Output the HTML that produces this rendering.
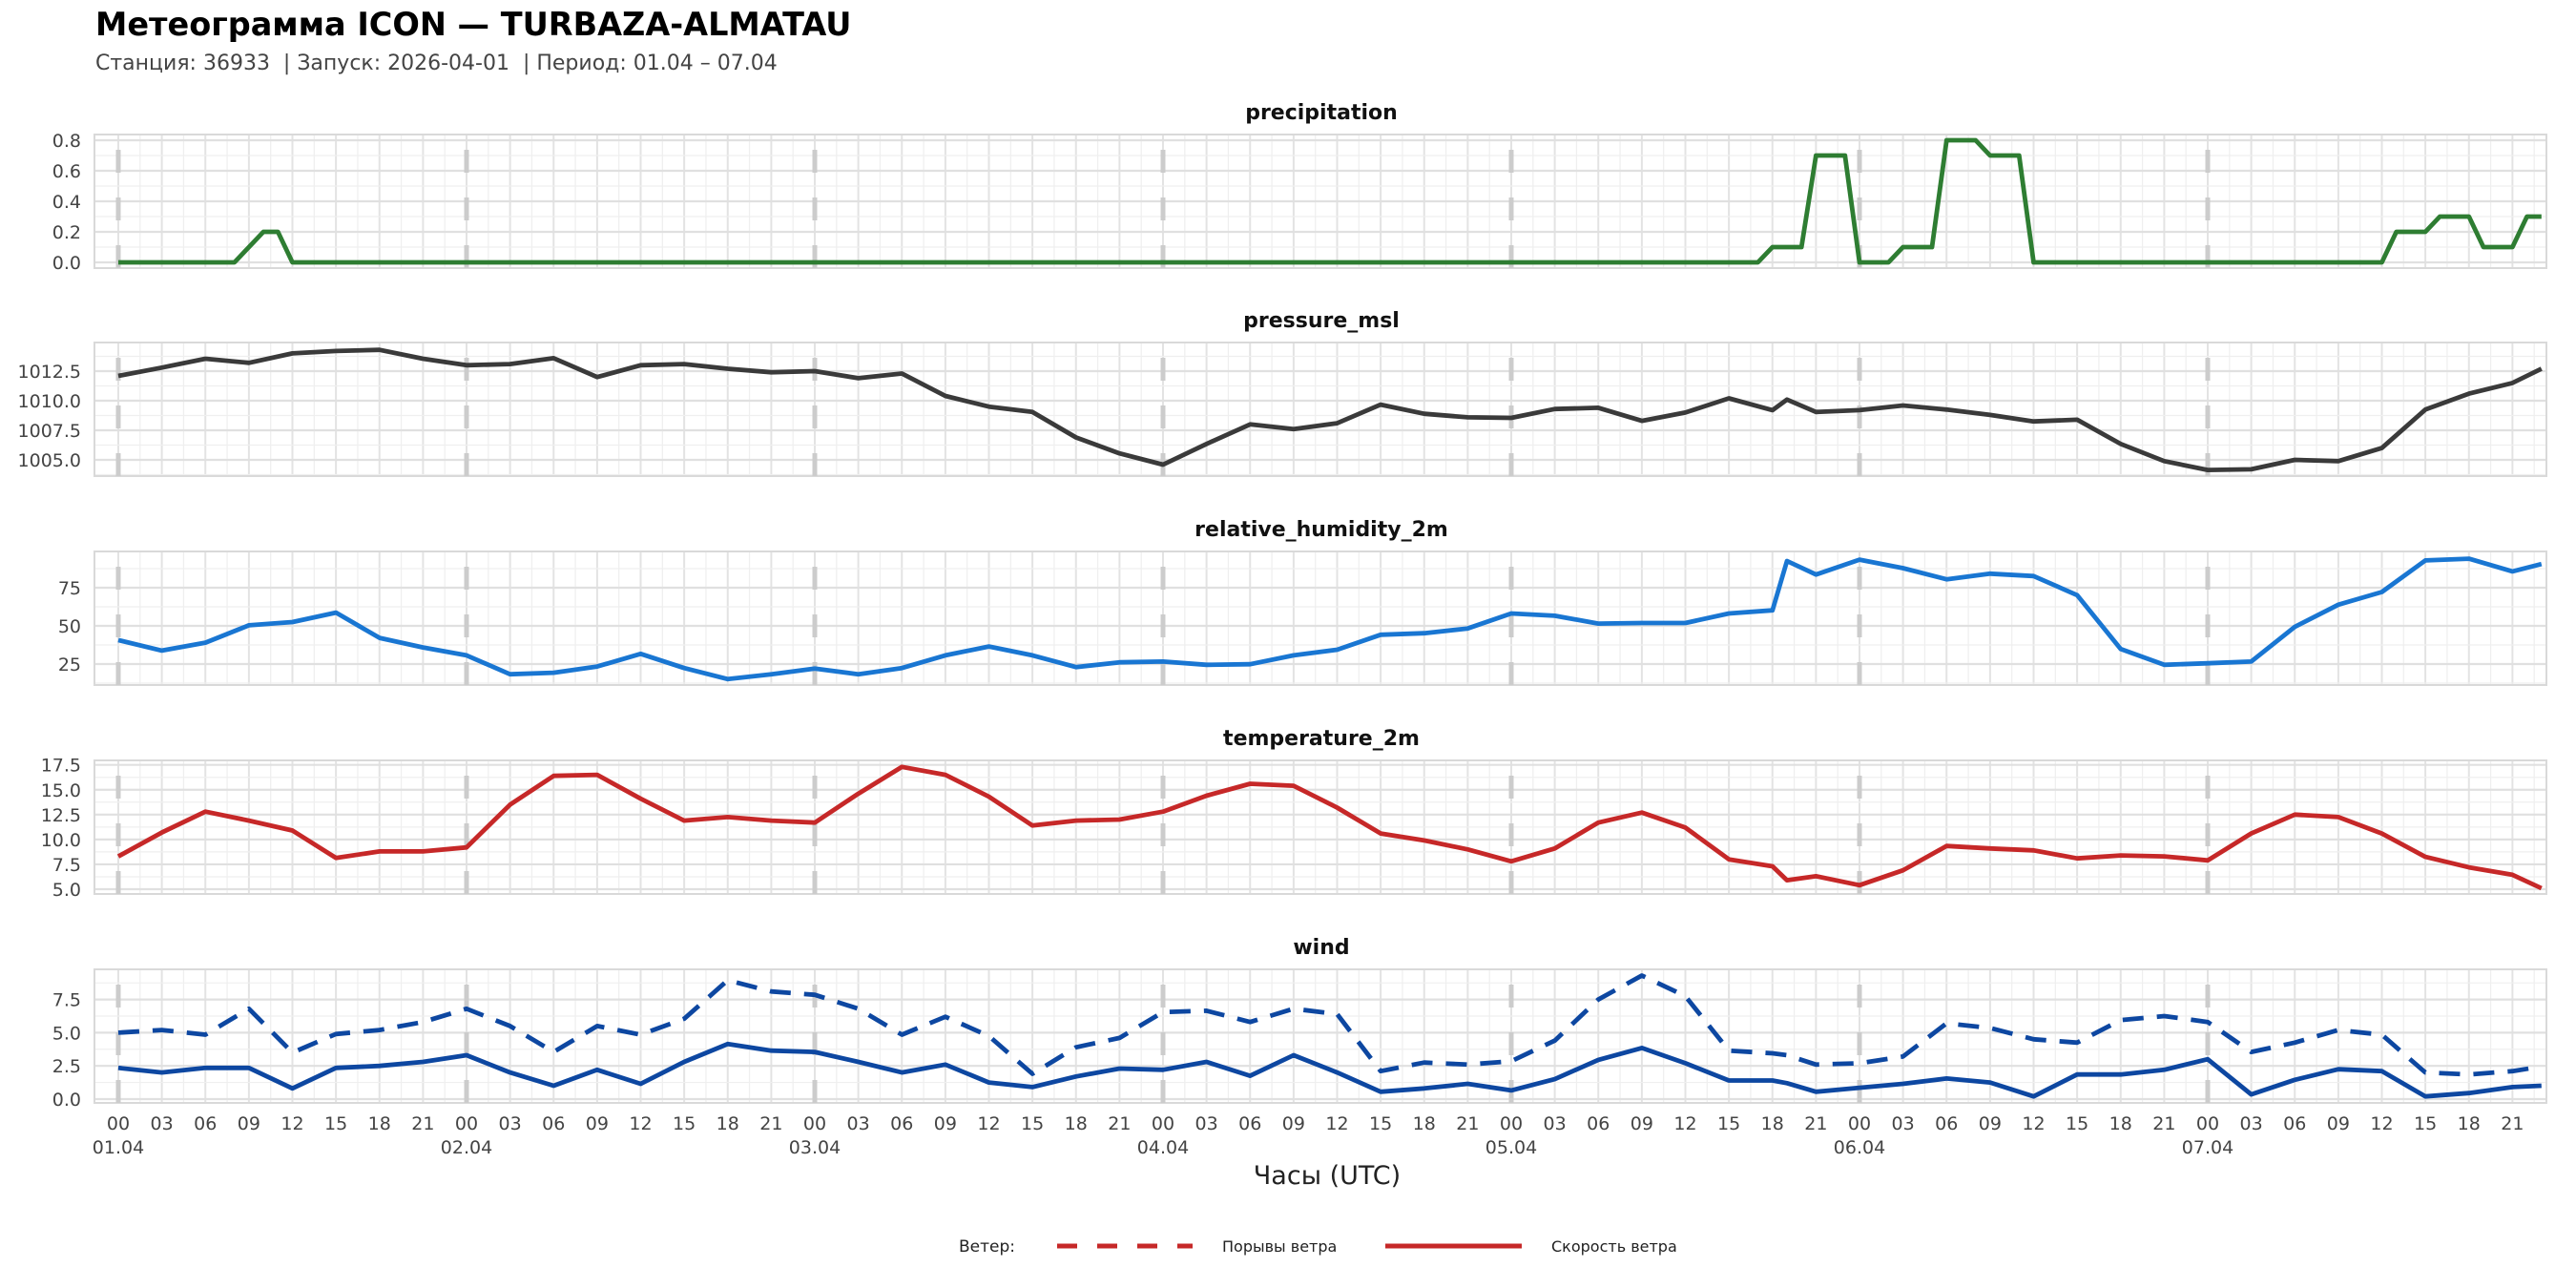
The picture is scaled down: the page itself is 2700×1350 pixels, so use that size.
<!DOCTYPE html>
<html><head><meta charset="utf-8"><style>
html,body{margin:0;padding:0;background:#fff;}
svg{display:block;font-family:"DejaVu Sans","Liberation Sans",sans-serif;}
</style></head>
<body>
<svg id="chart" width="2700" height="1350" viewBox="0 0 2700 1350" xmlns="http://www.w3.org/2000/svg">
<rect x="0" y="0" width="2700" height="1350" fill="#fff"/>
<text x="100" y="37" font-size="33.5" font-weight="bold" fill="#000">Метеограмма ICON — TURBAZA-ALMATAU</text>
<text x="100" y="73" font-size="22" fill="#444">Станция: 36933&#160;&#160;| Запуск: 2026-04-01&#160;&#160;| Период: 01.04 – 07.04</text>
<g id="panels"></g>
<text x="1391" y="1241" font-size="27" text-anchor="middle" fill="#222">Часы (UTC)</text>
<g>
<text x="1005" y="1312" font-size="17" fill="#222">Ветер:</text>
<line x1="1108" y1="1306" x2="1250" y2="1306" stroke="#c62828" stroke-width="5" stroke-dasharray="21 21"/>
<text x="1281" y="1312" font-size="16" fill="#222">Порывы ветра</text>
<line x1="1452" y1="1306" x2="1595" y2="1306" stroke="#c62828" stroke-width="5"/>
<text x="1626" y="1312" font-size="16" fill="#222">Скорость ветра</text>
</g>
</svg>
<script>
const hours = [0,3,6,9,12,15,18,21,24,27,30,33,36,39,42,45,48,51,54,57,60,63,66,69,72,75,78,81,84,87,90,93,96,99,102,105,108,111,114,115,117,120,123,126,129,132,135,138,141,144,147,150,153,156,159,162,165,167];
const pressure = [1012.1,1012.8,1013.55,1013.2,1014.0,1014.2,1014.3,1013.55,1013.0,1013.1,1013.6,1012.0,1013.0,1013.1,1012.7,1012.4,1012.5,1011.9,1012.3,1010.4,1009.5,1009.05,1006.9,1005.55,1004.6,1006.35,1008.0,1007.6,1008.1,
1009.67,1008.9,1008.6,1008.55,1009.3,1009.4,1008.3,1009.0,1010.2,1009.2,1010.1,
1009.05,1009.2,1009.6,1009.25,1008.8,1008.25,1008.4,1006.35,1004.9,1004.15,1004.2,1005.0,1004.9,1006.0,1009.25,1010.6,1011.5,1012.7];
const humidity = [40.7,33.8,39,50.4,52.5,58.7,42.1,35.9,30.7,18.3,19.3,23.4,31.7,22.4,15.1,18.3,22,18.3,22.4,30.7,36.5,30.7,23,26.1,26.6,24.5,24.9,30.7,34.4,
44.2,45.2,48.3,58.1,56.6,51.5,51.9,51.9,58.1,60.2,92.5,
83.6,93.4,87.8,80.5,84.2,82.6,70.1,34.9,24.5,25.5,26.6,49.4,63.9,72.2,92.9,94,85.7,90.5];
const temperature = [8.3,10.7,12.8,11.9,10.9,8.15,8.8,8.8,9.2,13.5,16.4,16.5,14.1,11.9,12.25,11.9,11.7,14.6,17.3,16.5,14.3,11.4,11.9,12.0,12.8,14.4,15.6,15.4,13.2,
10.6,9.9,9.0,7.8,9.1,11.7,12.7,11.2,8.0,7.3,5.9,
6.3,5.4,6.9,9.35,9.1,8.9,8.1,8.4,8.3,7.9,10.6,12.5,12.25,10.6,8.25,7.2,6.45,5.1];
const windSpeed = [2.35,2.0,2.35,2.35,0.8,2.35,2.5,2.8,3.3,2.0,1.0,2.2,1.15,2.8,4.15,3.65,3.55,2.8,2.0,2.6,1.25,0.9,1.7,2.3,2.2,2.8,1.75,3.3,2.0,
0.55,0.8,1.15,0.65,1.5,2.95,3.85,2.7,1.4,1.4,1.2,
0.55,0.85,1.15,1.55,1.25,0.2,1.85,1.85,2.2,3.0,0.35,1.45,2.25,2.1,0.2,0.45,0.9,1.0];
const windGust = [5.0,5.2,4.85,6.8,3.5,4.9,5.2,5.8,6.8,5.5,3.55,5.5,4.85,6.05,8.95,8.1,7.85,6.8,4.85,6.2,4.75,1.9,3.9,4.6,6.55,6.65,5.8,6.8,6.4,
2.1,2.75,2.6,2.85,4.4,7.5,9.3,7.75,3.65,3.45,3.3,
2.6,2.7,3.2,5.7,5.35,4.5,4.25,5.95,6.25,5.8,3.55,4.25,5.2,4.85,2.0,1.85,2.1,2.45];
const precipitation = [0,0,0,0,0,0,0,0,0,0.1,0.2,0.2,0,0,0,0,0,0,0,0,0,0,0,0,
0,0,0,0,0,0,0,0,0,0,0,0,0,0,0,0,0,0,0,0,0,0,0,0,
0,0,0,0,0,0,0,0,0,0,0,0,0,0,0,0,0,0,0,0,0,0,0,0,
0,0,0,0,0,0,0,0,0,0,0,0,0,0,0,0,0,0,0,0,0,0,0,0,
0,0,0,0,0,0,0,0,0,0,0,0,0,0,0,0,0,0,0.1,0.1,0.1,0.7,0.7,0.7,
0,0,0,0.1,0.1,0.1,0.8,0.8,0.8,0.7,0.7,0.7,0,0,0,0,0,0,0,0,0,0,0,0,
0,0,0,0,0,0,0,0,0,0,0,0,0,0.2,0.2,0.2,0.3,0.3,0.3,0.1,0.1,0.1,0.3,0.3];
const precipTicks = [0,0.2,0.4,0.6,0.8];
const precipTickLabels = ["0.0","0.2","0.4","0.6","0.8"];
const pressureTicks = [1005,1007.5,1010,1012.5];
const pressureTickLabels = ["1005.0","1007.5","1010.0","1012.5"];
const humidityTicks = [25,50,75];
const humidityTickLabels = ["25","50","75"];
const tempTicks = [5,7.5,10,12.5,15,17.5];
const tempTickLabels = ["5.0","7.5","10.0","12.5","15.0","17.5"];
const windTicks = [0,2.5,5,7.5];
const windTickLabels = ["0.0","2.5","5.0","7.5"];
const dayLabels = ["01.04","02.04","03.04","04.04","05.04","06.04","07.04"];
const hourLabels = ["00","03","06","09","12","15","18","21"];

const NS = "http://www.w3.org/2000/svg";
const PL = 99, PR = 2669, PH = 140;
const HMIN = (PL - 124) / (365/24), HMAX = (PR - 124) / (365/24);
function xScale(h){ return PL + (h - HMIN) / (HMAX - HMIN) * (PR - PL); }
function mk(tag, attrs, parent){ const e = document.createElementNS(NS, tag); for (const k in attrs) e.setAttribute(k, attrs[k]); parent.appendChild(e); return e; }
const root = document.getElementById('panels');

const panels = [
 {name:'precipitation', top:141, lo:-0.0375, hi:0.8375, ticks:precipTicks, labels:precipTickLabels},
 {name:'pressure_msl', top:359, lo:1003.63, hi:1014.92, ticks:pressureTicks, labels:pressureTickLabels},
 {name:'relative_humidity_2m', top:578, lo:11.25, hi:98.75, ticks:humidityTicks, labels:humidityTickLabels},
 {name:'temperature_2m', top:797, lo:4.52, hi:17.95, ticks:tempTicks, labels:tempTickLabels},
 {name:'wind', top:1016, lo:-0.29, hi:9.77, ticks:windTicks, labels:windTickLabels}
];

function yScaleFor(p){ return v => p.top + PH - (v - p.lo) / (p.hi - p.lo) * PH; }

panels.forEach((p, pi) => {
  const g = mk('g', {}, root);
  
  
  const ys = yScaleFor(p);
  const t = mk('text', {x:1385, y:p.top-16, 'font-size':22, 'font-weight':'bold', 'text-anchor':'middle', fill:'#111'}, g);
  t.textContent = p.name;
  
  
  const grid = mk('g', {}, g);
  
  
  for (let h = 0; h <= 168; h += 1.5) {
    const x = xScale(h);
    if (x < PL || x > PR) continue;
    mk('line', {x1:x, x2:x, y1:p.top, y2:p.top+PH, stroke: (h % 3 === 0) ? '#e3e3e3' : '#efefef', 'stroke-width': (h % 3 === 0) ? 2 : 1.2}, grid);
  }
  const step = p.ticks[1] - p.ticks[0];
  for (let v = p.ticks[0] - step*2; v <= p.hi + step; v += step/2) {
    if (v < p.lo || v > p.hi) continue;
    const y = ys(v);
    const major = p.ticks.some(tk => Math.abs(tk - v) < 1e-6);
    mk('line', {x1:PL, x2:PR, y1:y, y2:y, stroke: major ? '#e0e0e0' : '#efefef', 'stroke-width': major ? 2.2 : 1.2}, grid);
  }
  mk('rect', {x:PL, y:p.top, width:PR-PL, height:PH, fill:'none', stroke:'#d9d9d9', 'stroke-width':2}, g);
  for (let d = 0; d < 7; d++) {
    const x = xScale(d*24);
    const l = mk('line', {x1:x, x2:x, y1:p.top+16, y2:p.top+PH, stroke:'#cccccc', 'stroke-width':5, 'stroke-dasharray':'24 26'}, g);
    
    
  }
  p.ticks.forEach((tk, i) => {
    const tt = mk('text', {x:85, y:ys(tk)+7, 'font-size':19, 'text-anchor':'end', fill:'#444'}, g);
    tt.textContent = p.labels[i];
    
    
  });
  function line(hs, vals, color, dash, name){
    const d = vals.map((v,i) => (i ? 'L' : 'M') + xScale(hs[i]).toFixed(1) + ' ' + ys(v).toFixed(1)).join(' ');
    const a = {d:d, fill:'none', stroke:color, 'stroke-width':4.8, 'stroke-linejoin':'round'};
    if (dash) a['stroke-dasharray'] = dash;
    const e = mk('path', a, g);
    
    
  }
  if (pi === 0) line(precipitation.map((v,i)=>i), precipitation, '#2e7d32', null, 'precipitation-line');
  if (pi === 1) line(hours, pressure, '#3a3a3a', null, 'pressure-line');
  if (pi === 2) line(hours, humidity, '#1976d2', null, 'humidity-line');
  if (pi === 3) line(hours, temperature, '#c62828', null, 'temperature-line');
  if (pi === 4) {
    line(hours, windGust, '#0d47a1', '22 14', 'wind-gust-line');
    line(hours, windSpeed, '#0d47a1', null, 'wind-speed-line');
  }
});

const xl = mk('g', {}, root);


for (let h = 0; h < 168; h += 3) {
  const t = mk('text', {x:xScale(h), y:1184, 'font-size':19, 'text-anchor':'middle', fill:'#444'}, xl);
  t.textContent = hourLabels[(h % 24) / 3];
  
  
}
dayLabels.forEach((lab, d) => {
  const t = mk('text', {x:xScale(d*24), y:1209, 'font-size':19, 'text-anchor':'middle', fill:'#444'}, xl);
  t.textContent = lab;
  
  
});
</script>
</body></html>
